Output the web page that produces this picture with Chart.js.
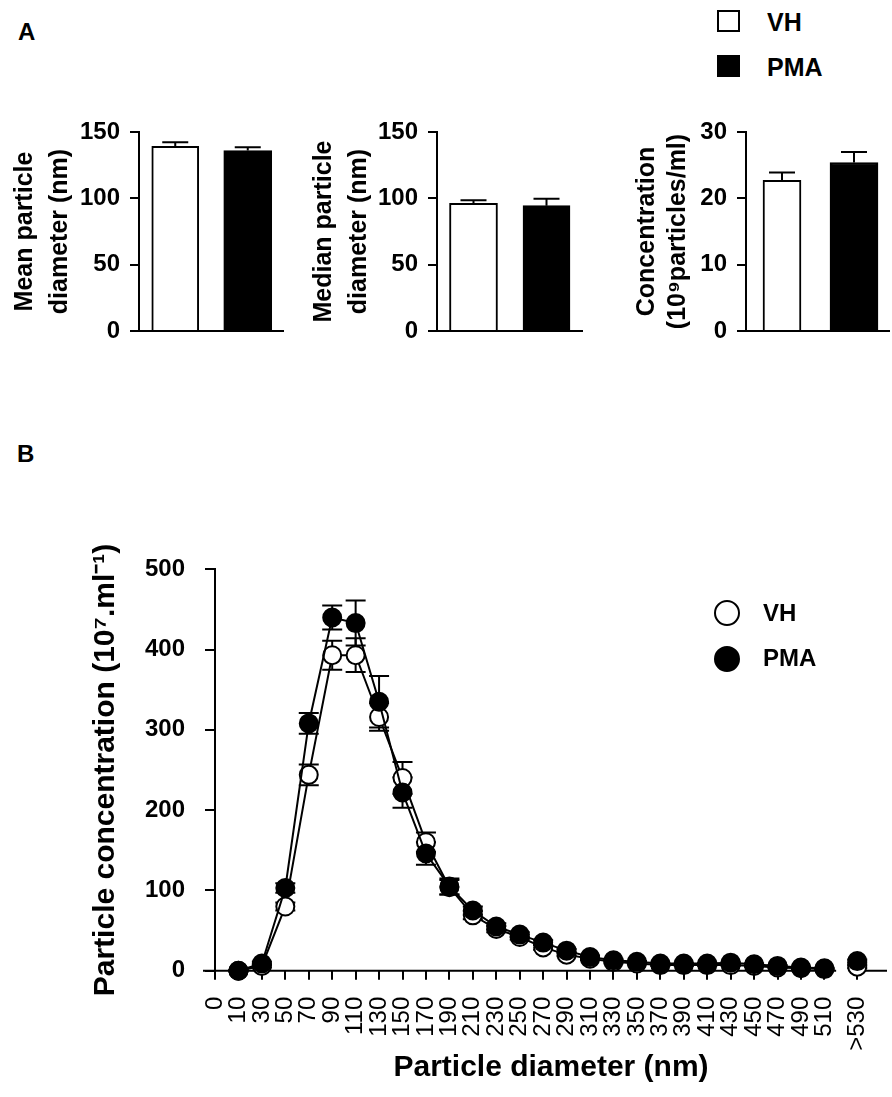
<!DOCTYPE html>
<html>
<head>
<meta charset="utf-8">
<title>Particle size and concentration</title>
<script src="https://cdn.jsdelivr.net/npm/chart.js@4.4.1/dist/chart.umd.min.js"></script>
<style>
  body { margin: 0; background: #fff; }
  #page { position: relative; width: 892px; height: 1097px; overflow: hidden;
          font-family: 'Liberation Sans', Arial, sans-serif; font-weight: bold; color: #000; }
  #page canvas { position: absolute; }
  .txt { position: absolute; line-height: 1; white-space: nowrap; }
  .mark { position: absolute; box-sizing: border-box; border: 2px solid #000; }
</style>
</head>
<body>
<div id="page">
  <div class="txt" style="left:18px;top:20px;font-size:24px">A</div>
  <div class="txt" style="left:17px;top:442px;font-size:24px">B</div>
  <canvas id="meanChart" width="290" height="250" style="left:0;top:100px"></canvas>
  <canvas id="medianChart" width="290" height="250" style="left:300px;top:100px"></canvas>
  <canvas id="concChart" width="292" height="250" style="left:600px;top:100px"></canvas>
  <canvas id="distChart" width="892" height="557" style="left:0;top:540px"></canvas>
</div>
<script>
Chart.defaults.font.family = "'Liberation Sans', Arial, sans-serif";
Chart.defaults.color = '#000';
Chart.defaults.animation = false;

// groups
const groups = ['VH', 'PMA'];

// panel A (mean +/- SEM)
const meanDiameter = [139.2, 136.0];
const meanDiameterSem = [3.0, 2.5];
const medianDiameter = [96.3, 94.5];
const medianDiameterSem = [2.2, 5.2];
const concentration = [22.7, 25.4];
const concentrationSem = [1.2, 1.6];

// panel B: size bins
const sizeLabels = ['0', '10', '30', '50', '70', '90', '110', '130', '150', '170', '190',
  '210', '230', '250', '270', '290', '310', '330', '350', '370', '390', '410', '430',
  '450', '470', '490', '510', '>530'];
// values for bins 10 ... 510 and >530
const vhDist = [0, 6, 80, 244, 393, 393, 316, 240, 160, 104, 69, 52, 42, 29, 20, 15, 11,
  9, 7, 7, 7, 7, 6, 4, 3, 2, 5];
const vhDistSem = [1, 2, 5, 13, 18, 21, 17, 20, 12, 9, 5, 4, 3, 3, 2, 2, 2,
  1, 1, 1, 1, 1, 1, 1, 1, 1, 2];
const pmaDist = [0, 9, 103, 308, 440, 433, 335, 222, 146, 105, 75, 55, 45, 35, 25, 17, 13,
  11, 9, 9, 9, 10, 8, 6, 4, 3, 12];
const pmaDistSem = [1, 2, 6, 13, 15, 28, 32, 19, 14, 10, 5, 4, 3, 3, 2, 2, 2,
  1, 1, 1, 1, 1, 1, 1, 1, 1, 2];

// axis position of each bin label (gap before the last bin for the axis break)
const xPos = sizeLabels.map((_, i) => i < sizeLabels.length - 1 ? i : i + 0.4);

// error bars, drawn under the marks
const errorBars = {
  id: 'errorBars',
  beforeDatasetsDraw(chart, args, opts) {
    const ctx = chart.ctx;
    const y = chart.scales.y;
    ctx.save();
    ctx.strokeStyle = '#000';
    ctx.lineWidth = 2;
    chart.data.datasets.forEach((ds, di) => {
      const meta = chart.getDatasetMeta(di);
      meta.data.forEach((el, i) => {
        const raw = ds.data[i];
        const val = raw !== null && typeof raw === 'object' ? raw.y : raw;
        if (val == null || ds.errors[i] == null) return;
        const top = y.getPixelForValue(val + ds.errors[i]);
        const bot = y.getPixelForValue(opts.both ? val - ds.errors[i] : val);
        ctx.beginPath();
        ctx.moveTo(el.x, bot);
        ctx.lineTo(el.x, top);
        ctx.moveTo(el.x - opts.cap, top);
        ctx.lineTo(el.x + opts.cap, top);
        if (opts.both) {
          ctx.moveTo(el.x - opts.cap, bot);
          ctx.lineTo(el.x + opts.cap, bot);
        }
        ctx.stroke();
      });
    });
    ctx.restore();
  }
};

// x axis line that runs a bit left of the y axis, with an optional break
const xAxisLine = {
  id: 'xAxisLine',
  beforeDatasetsDraw(chart, args, opts) {
    const {ctx, chartArea} = chart;
    const y0 = chart.scales.y.getPixelForValue(0);
    let segs = [[chartArea.left - opts.overhang, chartArea.right]];
    if (opts.breakAt) {
      const xs = chart.scales.x;
      segs = [[chartArea.left - opts.overhang, xs.getPixelForValue(opts.breakAt[0])],
              [xs.getPixelForValue(opts.breakAt[1]), chartArea.right]];
    }
    ctx.save();
    ctx.strokeStyle = '#000';
    ctx.lineWidth = 2;
    ctx.beginPath();
    segs.forEach(s => { ctx.moveTo(s[0], y0); ctx.lineTo(s[1], y0); });
    ctx.stroke();
    ctx.restore();
  }
};

// fixed axis sizes, and no extra room for the end labels
function fixWidth(w) {
  return s => { s.width = w; s.paddingTop = 0; s.paddingBottom = 0; };
}
function fixHeight(h) {
  return s => { s.height = h; s.paddingLeft = 0; s.paddingRight = 0; };
}

function barPanel(id, values, sems, yMax, yStep, title, o) {
  return new Chart(id, {
    type: 'bar',
    data: {
      labels: groups,
      datasets: groups.map((g, i) => ({
        label: g,
        data: values.map((v, j) => j === i ? v : null),
        errors: sems.map((v, j) => j === i ? v : null),
        backgroundColor: i === 0 ? '#fff' : '#000',
        borderColor: '#000',
        borderWidth: 2,
        barThickness: o.widths[i],
        grouped: false
      }))
    },
    options: {
      responsive: false,
      events: [],
      layout: { autoPadding: false, padding: { top: 32, right: o.right, bottom: 19, left: 0 } },
      scales: {
        x: { display: false },
        y: {
          min: 0, max: yMax,
          afterFit: fixWidth(o.axisWidth),
          ticks: { stepSize: yStep, padding: 10, font: { size: 24, weight: 'bold' } },
          grid: { drawOnChartArea: false, tickLength: 9, lineWidth: 2, color: '#000' },
          border: { color: '#000', width: 2 },
          title: { display: true, text: title, padding: { top: o.titlePad },
                   font: { size: 25, weight: 'bold', lineHeight: o.lineHeight } }
        }
      },
      plugins: {
        legend: { display: false },
        tooltip: { enabled: false },
        errorBars: { cap: 13, both: false },
        xAxisLine: { overhang: 9 }
      }
    },
    plugins: [errorBars, xAxisLine]
  });
}

barPanel('meanChart', meanDiameter, meanDiameterSem, 150, 50,
  ['Mean particle', 'diameter (nm)'],
  { axisWidth: 139, right: 6, widths: [47, 48], titlePad: 8, lineHeight: 1.4 });
barPanel('medianChart', medianDiameter, medianDiameterSem, 150, 50,
  ['Median particle', 'diameter (nm)'],
  { axisWidth: 137, right: 7, widths: [48, 47], titlePad: 6.7, lineHeight: 1.4 });
barPanel('concChart', concentration, concentrationSem, 30, 10,
  ['Concentration', '(10\u2079particles/ml)'],
  { axisWidth: 146, right: 2, widths: [38, 48], titlePad: 31.2, lineHeight: 1.24 });

const lastBin = vhDist.length - 1;
function distSet(label, values, sems, fill, order) {
  return {
    label: label,
    data: values.map((v, i) => ({ x: xPos[i + 1], y: v })),
    errors: sems,
    borderColor: '#000',
    borderWidth: 2,
    pointRadius: 9,
    pointBorderWidth: 2,
    pointBorderColor: '#000',
    pointBackgroundColor: fill,
    clip: false,
    order: order,
    segment: { borderColor: c => c.p1DataIndex === lastBin ? 'transparent' : '#000' }
  };
}

new Chart('distChart', {
  type: 'line',
  data: {
    datasets: [
      distSet('VH', vhDist, vhDistSem, '#fff', 1),
      distSet('PMA', pmaDist, pmaDistSem, '#000', 0)
    ]
  },
  options: {
    responsive: false,
    events: [],
    layout: { autoPadding: false, padding: { top: 29.3, right: 5, bottom: 0, left: 0 } },
    scales: {
      x: {
        type: 'linear', min: 0, max: 28.67,
        afterBuildTicks: s => { s.ticks = xPos.map(v => ({ value: v })); },
        afterFit: fixHeight(126.3),
        ticks: { autoSkip: false, minRotation: 90, maxRotation: 90, padding: 17,
                 font: { size: 24 }, callback: (v, i) => sizeLabels[i] },
        grid: { drawOnChartArea: false, tickLength: 9, lineWidth: 2, color: '#000' },
        border: { display: false },
        title: { display: true, text: 'Particle diameter (nm)', padding: { bottom: 11 },
                 font: { size: 30, weight: 'bold' } }
      },
      y: {
        min: 0, max: 500,
        afterFit: fixWidth(215),
        ticks: { stepSize: 100, padding: 20, font: { size: 24, weight: 'bold' } },
        grid: { drawOnChartArea: false, tickLength: 10, lineWidth: 2, color: '#000' },
        border: { color: '#000', width: 2 },
        title: { display: true, text: 'Particle concentration (10\u2077.ml\u207B\u00B9)',
                 padding: { top: 88 }, font: { size: 30, weight: 'bold' } }
      }
    },
    plugins: {
      legend: { display: false },
      tooltip: { enabled: false },
      errorBars: { cap: 10, both: true },
      xAxisLine: { overhang: 12, breakAt: [26.5, 27.05] }
    }
  },
  plugins: [errorBars, xAxisLine]
});

// legends
const page = document.getElementById('page');
function addEl(cls, css, text) {
  const d = document.createElement('div');
  d.className = cls;
  d.style.cssText = css;
  if (text) d.textContent = text;
  page.appendChild(d);
}
const fills = ['#fff', '#000'];
groups.forEach((g, i) => {
  // panel A legend: squares
  addEl('mark', `left:717px;top:${10 + i * 45}px;width:23px;height:22px;background:${fills[i]}`);
  addEl('txt', `left:767px;top:${10 + i * 45}px;font-size:25px`, g);
  // panel B legend: circles
  addEl('mark', `left:714px;top:${600 + i * 46}px;width:26px;height:26px;border-radius:50%;background:${fills[i]}`);
  addEl('txt', `left:763px;top:${601 + i * 45}px;font-size:24px`, g);
});
</script>
</body>
</html>
